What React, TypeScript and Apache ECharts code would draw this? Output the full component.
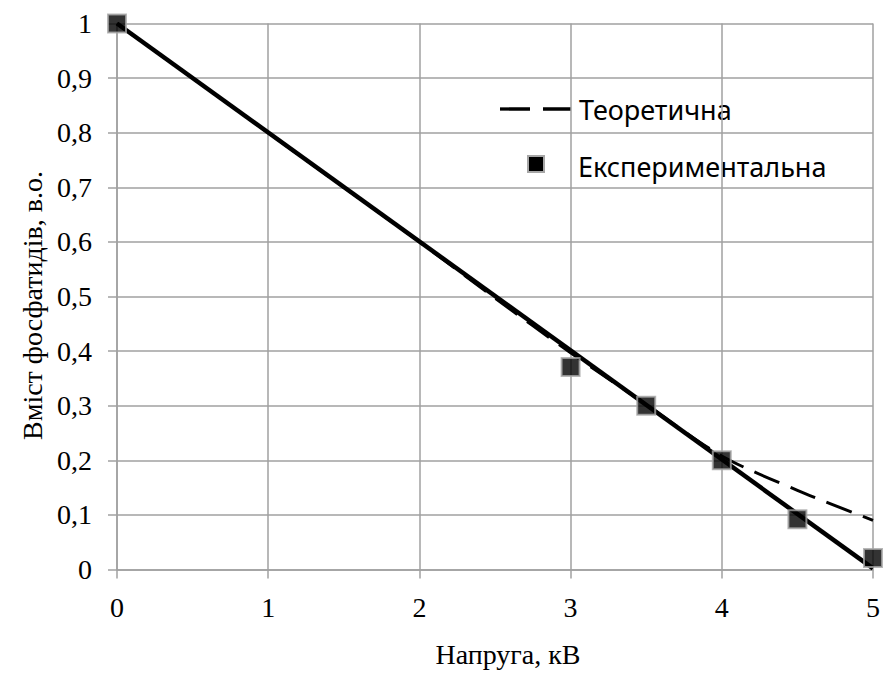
import React, { useEffect, useRef } from "react";
import * as echarts from "echarts";

const theoryX = [0, 0.5, 1, 1.5, 2, 2.5, 3, 3.5, 4, 4.5, 5];
const theoryY = [1, 0.9, 0.8, 0.7, 0.6, 0.497, 0.397, 0.302, 0.208, 0.145, 0.09];
const expX = [0, 3, 3.5, 4, 4.5, 5];
const expY = [1, 0.371, 0.3, 0.2, 0.092, 0.021];
const trendX = [0, 5];
const trendY = [1, 0.002];
const legendNames = ["Теоретична", "Експериментальна"];
const xTitle = "Напруга, кВ";
const yTitle = "Вміст фосфатидів, в.о.";

export default function App() {
  const ref = useRef<HTMLDivElement>(null);
  useEffect(() => {
    document.body.style.margin = "0";
    const chart = echarts.init(ref.current!, null, { renderer: "svg" });
    const serif = "Liberation Serif";
    const sans = "Noto Sans";
    const gray = "#a0a0a0";
    chart.setOption({
      animation: false,
      backgroundColor: "#ffffff",
      grid: { left: 117, right: 3, top: 23.5, bottom: 107.5 },
      xAxis: {
        type: "value",
        min: 0,
        max: 5,
        interval: 1,
        name: xTitle,
        nameLocation: "middle",
        nameGap: 71,
        nameTextStyle: { fontFamily: serif, fontSize: 28, color: "#000", padding: [0, 0, 0, 26] },
        axisLine: { show: true, lineStyle: { color: gray, width: 1.5 } },
        axisTick: { show: true, length: 9, lineStyle: { color: gray, width: 1.5 } },
        axisLabel: { fontFamily: serif, fontSize: 28, color: "#000", margin: 24, formatter: (v: number) => String(v) },
        splitLine: { show: true, lineStyle: { color: gray, width: 1.5 } },
      },
      yAxis: {
        type: "value",
        min: 0,
        max: 1,
        interval: 0.1,
        name: yTitle,
        nameLocation: "middle",
        nameGap: 67,
        nameTextStyle: { fontFamily: serif, fontSize: 28, color: "#000", padding: [0, 18, 0, 0] },
        axisLine: { show: true, lineStyle: { color: gray, width: 1.5 } },
        axisTick: { show: true, length: 9, lineStyle: { color: gray, width: 1.5 } },
        axisLabel: {
          fontFamily: serif,
          fontSize: 28,
          color: "#000",
          margin: 25,
          formatter: (v: number) => String(Math.round(v * 10) / 10).replace(".", ","),
        },
        splitLine: { show: true, lineStyle: { color: gray, width: 1.5 } },
      },
      series: [
        {
          name: "trend",
          type: "line",
          data: trendX.map((x, i) => [x, trendY[i]]),
          showSymbol: false,
          lineStyle: { color: "#000", width: 4.5 },
          z: 3,
        },
        {
          name: legendNames[0],
          type: "line",
          data: theoryX.map((x, i) => [x, theoryY[i]]),
          showSymbol: false,
          smooth: 0.3,
          lineStyle: { color: "#000", width: 3, type: [27, 12] },
          z: 2,
        },
        {
          name: legendNames[1],
          type: "scatter",
          data: expX.map((x, i) => [x, expY[i]]),
          symbol: "rect",
          symbolSize: 18,
          itemStyle: { color: "#000", borderColor: "#a6a6a6", borderWidth: 2 },
          z: 4,
        },
      ],
      graphic: [
        {
          type: "line",
          shape: { x1: 500, y1: 109, x2: 571, y2: 109 },
          style: { stroke: "#000", lineWidth: 3.3, lineDash: [30, 13] },
        },
        {
          type: "text",
          x: 579,
          y: 109,
          style: { text: legendNames[0], font: `27px ${sans}`, fill: "#000", textVerticalAlign: "middle" },
        },
        {
          type: "rect",
          shape: { x: 528, y: 156, width: 16, height: 16 },
          style: { fill: "#000", stroke: "#a6a6a6", lineWidth: 2 },
        },
        {
          type: "text",
          x: 578,
          y: 166,
          style: { text: legendNames[1], font: `27px ${sans}`, fill: "#000", textVerticalAlign: "middle" },
        },
      ],
    });
    return () => chart.dispose();
  }, []);
  return <div ref={ref} style={{ width: 883, height: 677 }} />;
}
